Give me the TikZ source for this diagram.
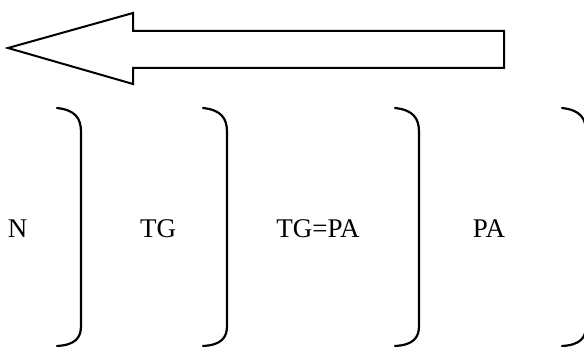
\documentclass[tikz,border=0pt]{standalone}
\usepackage{fontspec}
\setmainfont{Liberation Serif}
\begin{document}
\begin{tikzpicture}[x=1pt,y=-1pt,
  outline/.style={draw=black,line width=2pt,line join=miter},
  brk/.style={draw=black,line width=2.2pt,line cap=round},
  zone/.style={font=\fontsize{27}{32}\selectfont,inner sep=0pt,anchor=base},
  pics/rbracket/.style={code={
    \draw[brk] (-24,108) .. controls (-6,110) and (0,118) .. (0,132)
      -- (0,326) .. controls (0,338) and (-6,345) .. (-24,346);
  }}]
\useasboundingbox (0,0) rectangle (584,347);
\clip (0,0) rectangle (584,347);

% big hollow arrow pointing left
\draw[outline] (8,48) -- (133,13) -- (133,31) -- (504,31) -- (504,68)
  -- (133,68) -- (133,84) -- cycle;

% closing brackets separating the zones
\pic at (81,0) {rbracket};
\pic at (227,0) {rbracket};
\pic at (419,0) {rbracket};
\pic at (586,0) {rbracket};

% zone labels
\node[zone] (n) at (17.5,238) {N};
\node[zone] (tg) at (158,238) {TG};
\node[zone] (tgpa) at (318,238) {TG=PA};
\node[zone] (pa) at (489,238) {PA};
\end{tikzpicture}
\end{document}
